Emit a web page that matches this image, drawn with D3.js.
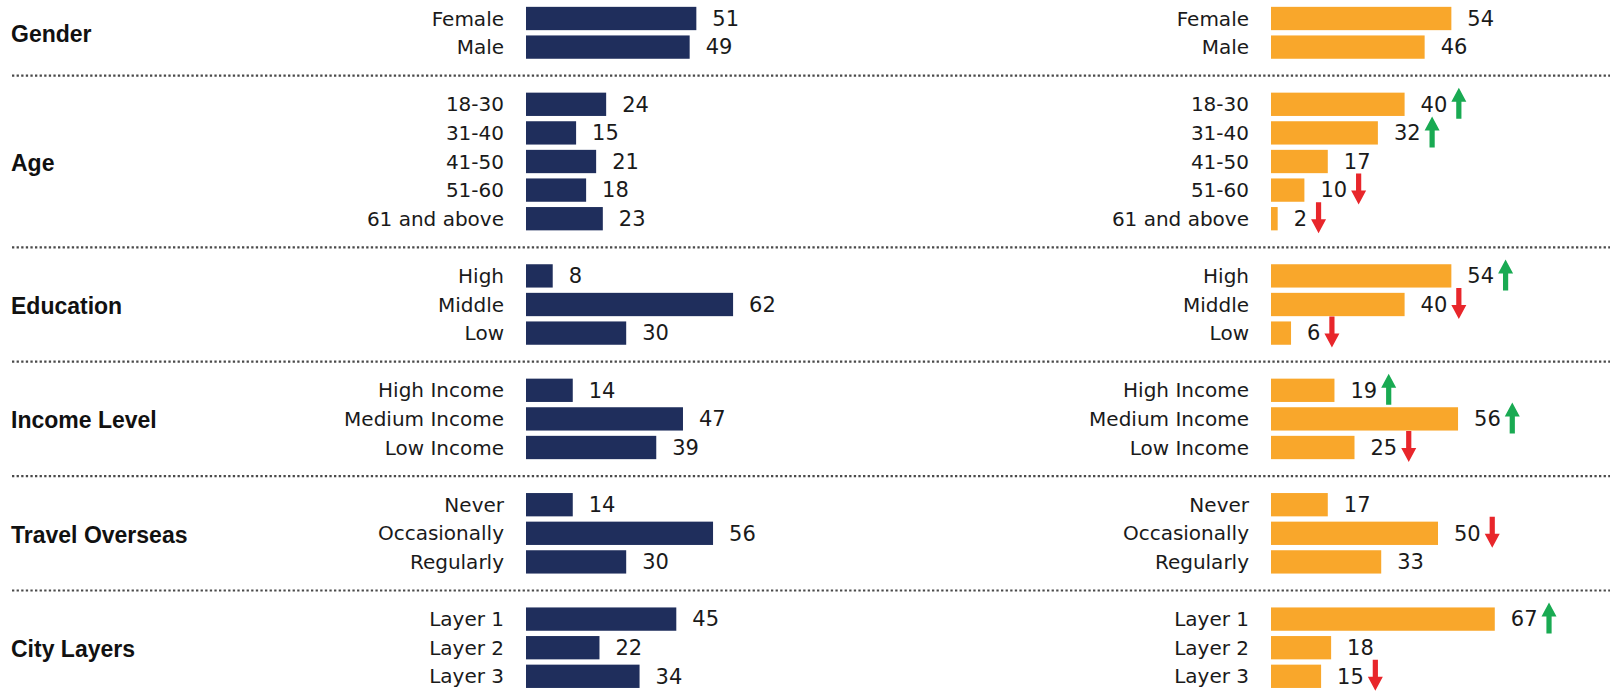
<!DOCTYPE html>
<html>
<head>
<meta charset="utf-8">
<script src="https://cdn.jsdelivr.net/npm/d3@7"></script>
<style>
  html, body { margin: 0; padding: 0; background: #ffffff; }
  svg { display: block; }
  text { font-family: "DejaVu Sans", sans-serif; fill: #1a1a1a; }
  text.title { font-family: "Liberation Sans", Arial, sans-serif; fill: #111; }
</style>
</head>
<body>
<svg id="chart" width="1610" height="693"></svg>
<script>
// ---- data ----
const groups = ["Gender", "Age", "Education", "Income Level", "Travel Overseas", "City Layers"];
const categories = [
  ["Female", "Male"],
  ["18-30", "31-40", "41-50", "51-60", "61 and above"],
  ["High", "Middle", "Low"],
  ["High Income", "Medium Income", "Low Income"],
  ["Never", "Occasionally", "Regularly"],
  ["Layer 1", "Layer 2", "Layer 3"]
];
const leftValues = [
  [51, 49],
  [24, 15, 21, 18, 23],
  [8, 62, 30],
  [14, 47, 39],
  [14, 56, 30],
  [45, 22, 34]
];
const rightValues = [
  [54, 46],
  [40, 32, 17, 10, 2],
  [54, 40, 6],
  [19, 56, 25],
  [17, 50, 33],
  [67, 18, 15]
];
// +1 = up (green), -1 = down (red), 0 = none
const rightChange = [
  [0, 0],
  [1, 1, 0, -1, -1],
  [1, -1, -1],
  [1, 1, -1],
  [0, -1, 0],
  [1, 0, -1]
];

// ---- build rows (slots) ----
const rows = [];
const seps = [];
const titles = [];
let slot = 0;
groups.forEach((g, gi) => {
  const start = slot;
  categories[gi].forEach((c, ci) => {
    rows.push({ slot: slot, label: c, left: leftValues[gi][ci], right: rightValues[gi][ci], change: rightChange[gi][ci] });
    slot++;
  });
  titles.push({ title: g, first: start, last: slot - 1 });
  if (gi < groups.length - 1) { seps.push(slot); slot++; }
});
const nSlots = slot;

const W = 1610, H = 693;
const svg = d3.select("#chart");

const y = d3.scaleBand().domain(d3.range(nSlots)).range([4.2, 690.6]).paddingInner(0.185).paddingOuter(0.0925);
const xL = d3.scaleLinear().domain([0, 100]).range([526, 526 + 334]);
const xR = d3.scaleLinear().domain([0, 100]).range([1271, 1271 + 334]);
const cy = i => y(i) + y.bandwidth() / 2;

const NAVY = "#1f2e5c", ORANGE = "#f9a72b", GREEN = "#19aa52", RED = "#e8262b";

// separators
svg.selectAll("line.sep").data(seps).join("line")
  .attr("class", "sep")
  .attr("x1", 12).attr("x2", W)
  .attr("y1", d => cy(d)).attr("y2", d => cy(d))
  .attr("stroke", "#4a4a4a").attr("stroke-width", 2.2)
  .attr("stroke-dasharray", "2.3,2.3");

// group titles
svg.selectAll("text.title").data(titles).join("text")
  .attr("class", "title")
  .attr("x", 11)
  .attr("y", d => (cy(d.first) + cy(d.last)) / 2 + 1)
  .attr("dy", "0.36em")
  .style("font-size", "23px").style("font-weight", "bold")
  .text(d => d.title);

// panels
function panel(x, key, color, labelX) {
  const g = svg.append("g");
  g.selectAll("text.lab").data(rows).join("text")
    .attr("class", "lab")
    .attr("x", labelX).attr("y", d => cy(d.slot)).attr("dy", "0.35em")
    .attr("text-anchor", "end")
    .style("font-size", "20px")
    .text(d => d.label);
  g.selectAll("rect").data(rows).join("rect")
    .attr("x", x(0)).attr("y", d => y(d.slot))
    .attr("width", d => x(d[key]) - x(0))
    .attr("height", y.bandwidth())
    .attr("fill", color);
  return g.selectAll("text.val").data(rows).join("text")
    .attr("class", "val")
    .attr("x", d => x(d[key]) + 16).attr("y", d => cy(d.slot)).attr("dy", "0.35em")
    .style("font-size", "21px")
    .text(d => d[key]);
}
panel(xL, "left", NAVY, 504);
const rvals = panel(xR, "right", ORANGE, 1249);

// arrows
function arrowPath(cx, cyy, dir) {
  const h = 31, hh = 14, hw = 7.5, sw = 2.6;
  const t = cyy - h / 2, b = cyy + h / 2;
  if (dir > 0) {
    return `M${cx},${t} L${cx + hw},${t + hh} L${cx + sw},${t + hh} L${cx + sw},${b} L${cx - sw},${b} L${cx - sw},${t + hh} L${cx - hw},${t + hh} Z`;
  } else {
    return `M${cx},${b} L${cx + hw},${b - hh} L${cx + sw},${b - hh} L${cx + sw},${t} L${cx - sw},${t} L${cx - sw},${b - hh} L${cx - hw},${b - hh} Z`;
  }
}
rvals.each(function (d) {
  if (!d.change) return;
  const bb = this.getBBox();
  const ax = bb.x + bb.width + 4 + 7.5;
  svg.append("path")
    .attr("d", arrowPath(ax, cy(d.slot) - 1, d.change))
    .attr("fill", d.change > 0 ? GREEN : RED);
});
</script>
</body>
</html>
